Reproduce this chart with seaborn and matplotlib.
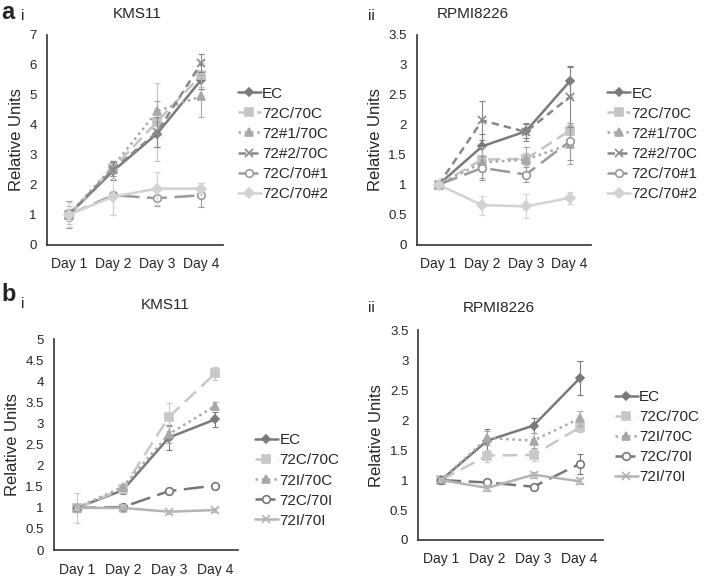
import numpy as np
import matplotlib
matplotlib.use("Agg")
import matplotlib.pyplot as plt
import seaborn as sns

# x categories
days = ["Day 1", "Day 2", "Day 3", "Day 4"]

# panel a labels
labels_a = ["EC", "72C/70C", "72#1/70C", "72#2/70C", "72C/70#1", "72C/70#2"]
# panel b labels
labels_b = ["EC", "72C/70C", "72I/70C", "72C/70I", "72I/70I"]

# a-i KMS11 means / error
ai_vals = [
    [1.0, 2.45, 3.70, 5.50],
    [1.0, 2.55, 4.10, 5.65],
    [1.0, 2.60, 4.45, 4.95],
    [1.0, 2.50, 3.75, 6.05],
    [1.0, 1.65, 1.55, 1.65],
    [1.0, 1.60, 1.87, 1.87],
]
ai_err = [
    [0.15, 0.30, 0.45, 0.30],
    [0.30, 0.25, 1.30, 0.40],
    [0.20, 0.20, 0.35, 0.70],
    [0.15, 0.30, 0.50, 0.30],
    [0.45, 0.65, 0.25, 0.40],
    [0.42, 0.60, 0.55, 0.20],
]

# a-ii RPMI8226
aii_vals = [
    [1.0, 1.64, 1.89, 2.72],
    [1.0, 1.42, 1.43, 1.90],
    [1.0, 1.37, 1.42, 1.67],
    [1.0, 2.07, 1.88, 2.46],
    [1.0, 1.28, 1.17, 1.72],
    [1.0, 0.66, 0.64, 0.78],
]
aii_err = [
    [0.03, 0.20, 0.12, 0.26],
    [0.03, 0.20, 0.10, 0.12],
    [0.03, 0.25, 0.20, 0.33],
    [0.03, 0.33, 0.15, 0.50],
    [0.03, 0.20, 0.12, 0.30],
    [0.03, 0.16, 0.20, 0.10],
]

# b-i KMS11
bi_vals = [
    [1.0, 1.42, 2.67, 3.10],
    [1.0, 1.45, 3.16, 4.19],
    [1.0, 1.50, 2.75, 3.42],
    [1.0, 1.02, 1.40, 1.53],
    [1.0, 1.00, 0.91, 0.95],
]
bi_err = [
    [0.10, 0.08, 0.30, 0.18],
    [0.35, 0.10, 0.33, 0.15],
    [0.10, 0.05, 0.20, 0.10],
    [0.05, 0.05, 0.04, 0.04],
    [0.10, 0.10, 0.05, 0.05],
]

# b-ii RPMI8226
bii_vals = [
    [1.0, 1.66, 1.91, 2.70],
    [1.0, 1.41, 1.42, 1.88],
    [1.0, 1.70, 1.66, 2.03],
    [1.0, 0.96, 0.89, 1.27],
    [1.0, 0.87, 1.09, 0.98],
]
bii_err = [
    [0.03, 0.20, 0.13, 0.28],
    [0.03, 0.10, 0.10, 0.08],
    [0.03, 0.12, 0.13, 0.12],
    [0.03, 0.04, 0.04, 0.17],
    [0.03, 0.05, 0.05, 0.05],
]

# line styles (color, linestyle, marker, marker size, marker face)
styles_a = [
    ("#7a7a7a", "-", "D", 4, None),
    ("#c4c4c4", (0, (5, 2.5)), "s", 6, None),
    ("#a8a8a8", (0, (1, 1.5)), "^", 5.5, None),
    ("#888888", (0, (3, 2)), "x", 6, None),
    ("#9a9a9a", (0, (8, 3)), "o", 5.5, "white"),
    ("#d2d2d2", "-", "D", 5, None),
]
styles_b = [
    ("#7a7a7a", "-", "D", 4, None),
    ("#c8c8c8", (0, (6, 3)), "s", 6, None),
    ("#a8a8a8", (0, (1, 1.5)), "^", 5.5, None),
    ("#777777", (0, (8, 3)), "o", 5.5, "white"),
    ("#b4b4b4", "-", "x", 6, None),
]

sns.set_style("white")
plt.rcParams["font.family"] = ["Liberation Sans", "DejaVu Sans"]

fig = plt.figure(figsize=(7.05, 5.76), dpi=100)


def draw_panel(rect, vals, errs, labels, styles, ymax, ystep, leg_anchor):
    ax = fig.add_axes(rect)
    x = np.arange(len(days))
    for v, e, lab, (c, ls, mk, ms, mfc) in zip(vals, errs, labels, styles):
        ax.errorbar(x, v, yerr=e, fmt="none", ecolor=c, elinewidth=0.8, capsize=2.5, capthick=0.8)
        sns.lineplot(x=x, y=v, ax=ax, color=c, linestyle=ls, linewidth=1.8,
                     marker=mk, markersize=ms, markeredgecolor=c,
                     markerfacecolor=mfc if mfc else c, markeredgewidth=1.2, label=lab)
    ax.set_xlim(-0.5, 3.5)
    ax.set_ylim(0, ymax)
    yt = np.arange(0, ymax + 0.001, ystep)
    ax.set_yticks(yt)
    ax.set_yticklabels([f"{t:g}" for t in yt], fontsize=9.5)
    ax.set_xticks(x)
    ax.set_xticklabels(days, fontsize=10)
    ax.set_xticks(np.arange(-0.5, 4, 1), minor=True)
    ax.tick_params(axis="x", which="major", length=0, pad=9)
    ax.tick_params(axis="x", which="minor", length=4, width=1, color="#333333", direction="out")
    ax.tick_params(axis="y", length=4, width=1, color="#333333", direction="out", pad=3)
    ax.set_ylabel("Relative Units", fontsize=12)
    ax.set_xlabel("")
    sns.despine(ax=ax)
    for s in ["left", "bottom"]:
        ax.spines[s].set_color("#333333")
        ax.spines[s].set_linewidth(1.2)
    ax.legend(loc="center left", bbox_to_anchor=leg_anchor, frameon=False, fontsize=11,
              handlelength=1.5, handletextpad=0.1, labelspacing=0.4, borderpad=0, borderaxespad=0)
    return ax


ax1 = draw_panel([0.066, 0.575, 0.251, 0.365], ai_vals, ai_err, labels_a, styles_a, 7, 1,
                 (1.08, 0.48))
ax2 = draw_panel([0.591, 0.575, 0.248, 0.365], aii_vals, aii_err, labels_a, styles_a, 3.5, 0.5,
                 (1.09, 0.48))
ax3 = draw_panel([0.076, 0.045, 0.262, 0.366], bi_vals, bi_err, labels_b, styles_b, 5, 0.5,
                 (1.09, 0.33))
ax4 = draw_panel([0.593, 0.0625, 0.262, 0.364], bii_vals, bii_err, labels_b, styles_b, 3.5, 0.5,
                 (1.065, 0.49))

# titles and panel letters
fig.text(0.195, 0.975, "KMS11", fontsize=11, ha="center", va="center")
fig.text(0.67, 0.975, "RPMI8226", fontsize=11, ha="center", va="center")
fig.text(0.235, 0.47, "KMS11", fontsize=11, ha="center", va="center")
fig.text(0.708, 0.465, "RPMI8226", fontsize=11, ha="center", va="center")
fig.text(0.002, 0.999, "a", fontsize=17, fontweight="bold", ha="left", va="top")
fig.text(0.03, 0.972, "i", fontsize=11, ha="left", va="center")
fig.text(0.522, 0.972, "ii", fontsize=11, ha="left", va="center")
fig.text(0.002, 0.488, "b", fontsize=17, fontweight="bold", ha="left", va="center")
fig.text(0.03, 0.472, "i", fontsize=11, ha="left", va="center")
fig.text(0.522, 0.466, "ii", fontsize=11, ha="left", va="center")

fig.savefig("out.png", dpi=100)
